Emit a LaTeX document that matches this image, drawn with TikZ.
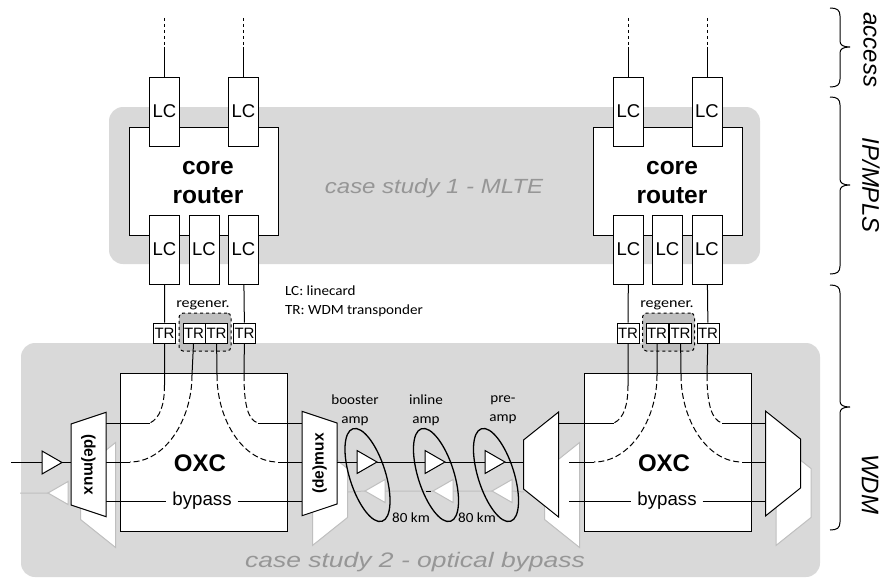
\documentclass[tikz,border=0pt]{standalone}
\usepackage{fontspec}
\setmainfont{Liberation Sans}
\newfontfamily\calfont[FakeStretch=1.08]{Carlito}
\newfontfamily\regfont[FakeStretch=1.15]{Carlito}
\usetikzlibrary{shapes.geometric}
\newcommand{\fsz}[1]{\fontsize{#1}{#1}\selectfont}
\newcommand{\blank}{\phantom{x}}
\definecolor{panelgray}{HTML}{D9D9D9}
\definecolor{regengray}{HTML}{BFBFBF}
\definecolor{backgray}{HTML}{BFBFBF}
\definecolor{casegray}{HTML}{969696}
\tikzset{
  panelbox/.style={fill=panelgray,rounded corners=14pt,minimum width=#1},
  routerbox/.style={draw,fill=white,minimum width=149pt,minimum height=108pt},
  oxcbox/.style={draw,fill=white,minimum width=167pt,minimum height=158pt},
  lcbox/.style={draw,fill=white,minimum width=30pt,minimum height=69pt,inner sep=0pt,font=\fsz{18.5}},
  trbox/.style={draw,fill=white,minimum width=22pt,minimum height=20pt,inner sep=0pt,font=\fsz{15}},
  regenbox/.style={draw,dashed,fill=regengray,rounded corners=4pt,minimum width=52pt,minimum height=38pt},
  muxbox/.style={draw,fill=white,trapezium,trapezium stretches=true,shape border rotate=180,
    trapezium left angle=59,trapezium right angle=59,minimum width=105pt,minimum height=35pt,
    inner sep=0pt,font=\bfseries\fsz{15.5}},
  graymux/.style={muxbox,draw=backgray,rotate=#1},
  ampbox/.style={draw,fill=white,isosceles triangle,isosceles triangle stretches=true,
    minimum width=23pt,minimum height=20pt,inner sep=0pt,anchor=apex},
  grayamp/.style={ampbox,draw=backgray,shape border rotate=180},
  ringbox/.style={draw,line width=1.3pt,ellipse,rotate=17.5,minimum width=36pt,minimum height=97pt,inner sep=0pt},
  smalltxt/.style={font=\calfont\fsz{14},inner sep=0pt},
  regentxt/.style={font=\regfont\fsz{14},inner sep=0pt},
  sidetxt/.style={font=\itshape\fsz{24},rotate=-90,inner sep=0pt},
  casetxt/.style={font=\itshape,text=casegray,inner sep=0pt},
  curvedash/.style={dash pattern=on 6pt off 3pt},
  every node/.append style={outer sep=0pt}
}
\begin{document}
\begin{tikzpicture}[x=1pt,y=-1pt,line width=1pt]
  \useasboundingbox (0,0) rectangle (882,578);
  % shaded areas
  \node[panelbox=651pt,minimum height=157pt] (panel1) at (434.5,185.5) {};
  \node[panelbox=799pt,minimum height=234pt] (panel2) at (420.5,460) {};
  \node[casetxt,font=\itshape\fsz{20.5}\addfontfeatures{FakeStretch=1.17}] (case1) at (434,188) {case study 1 - MLTE};
  \node[casetxt,font=\itshape\fsz{21}\addfontfeatures{FakeStretch=1.26}] (case2) at (415,562) {case study 2 - optical bypass};

  % routers
  \node[routerbox] (router1) at (203.5,181) {};
  \node[routerbox] (router2) at (667.5,181) {};
  \node[font=\bfseries\fsz{24.5},align=center,inner sep=0pt] (core1) at (208,182.5) {core\\[4pt]router};
  \node[font=\bfseries\fsz{24.5},align=center,inner sep=0pt] (core2) at (672,182.5) {core\\[4pt]router};
  \begin{scope}[every node/.style={lcbox}]
    \node (lc1) at (164.5,111.5) {LC};
    \node (lc2) at (243.5,111.5) {LC};
    \node (lc3) at (164.5,249.5) {LC};
    \node (lc4) at (204,249.5) {LC};
    \node (lc5) at (243.5,249.5) {LC};
    \node (lc6) at (628.5,111.5) {LC};
    \node (lc7) at (707,111.5) {LC};
    \node (lc8) at (628.5,249.5) {LC};
    \node (lc9) at (667.5,249.5) {LC};
    \node (lc10) at (707,249.5) {LC};
  \end{scope}
  \coordinate (acc1) at (164.5,18);
  \coordinate (acc2) at (243.5,18);
  \coordinate (acc3) at (628.5,18);
  \coordinate (acc4) at (707,18);
  \coordinate (cut1) at (164.5,47);
  \coordinate (cut2) at (243.5,47);
  \coordinate (cut3) at (628.5,47);
  \coordinate (cut4) at (707,47);
  \draw[dashed] (acc1) -- (cut1) (acc2) -- (cut2) (acc3) -- (cut3) (acc4) -- (cut4);
  \draw (cut1) -- (lc1) (cut2) -- (lc2) (cut3) -- (lc6) (cut4) -- (lc7);

  % back direction, grey
  \node[graymux=-90] (back1) at (98,495) {\blank};
  \node[graymux=90] (back2) at (330,493) {\blank};
  \node[graymux=-90] (back3) at (562,495) {\blank};
  \node[graymux=90] (back4) at (793.5,493) {\blank};
  \node[grayamp] (gamp1) at (48,493) {\blank};
  \node[grayamp] (gamp2) at (365,491) {\blank};
  \node[grayamp] (gamp3) at (433,491) {\blank};
  \node[grayamp] (gamp4) at (492,491) {\blank};
  \coordinate (gin) at (20,493);
  \coordinate (gmid1) at (348,492);
  \coordinate (gmid2) at (524,492);
  \draw[backgray] (gin) -- (gamp1.apex) (gmid1) -- (gamp2.apex) (gamp2.east) -- (gamp3.apex) (gamp3.east) -- (gamp4.apex) (gamp4.east) -- (gmid2);
  \coordinate (tick1) at (426,491.5);
  \coordinate (tick2) at (431,491.5);
  \draw (tick1) -- (tick2);

  % OXCs and regenerators
  \node[oxcbox] (oxc1) at (203.5,452) {};
  \node[oxcbox] (oxc2) at (667.5,452) {};
  \node[regenbox] (regen1) at (205,332) {};
  \node[regenbox] (regen2) at (668.5,332) {};
  \node[regentxt] (regtxt1) at (203,305) {regener.};
  \node[regentxt] (regtxt2) at (667,305) {regener.};
  \begin{scope}[every node/.style={trbox}]
    \node (tr1) at (164.5,333) {TR};
    \node (tr2) at (194,333) {TR};
    \node (tr3) at (216.5,333) {TR};
    \node (tr4) at (244.5,333) {TR};
    \node (tr5) at (628,333) {TR};
    \node (tr6) at (657,333) {TR};
    \node (tr7) at (680.5,333) {TR};
    \node (tr8) at (708,333) {TR};
  \end{scope}
  \node[font=\bfseries\fsz{24},inner sep=0pt] (oxctxt1) at (200,463) {OXC};
  \node[font=\bfseries\fsz{24},inner sep=0pt] (oxctxt2) at (664,463) {OXC};
  \node[font=\fsz{18.7},inner sep=6pt] (byp1) at (202,501) {bypass};
  \node[font=\fsz{18.7},inner sep=6pt] (byp2) at (667,501) {bypass};

  % fibres into the OXCs
  \coordinate (a1) at (164.5,385);
  \coordinate (a2) at (150,423);
  \coordinate (b1) at (192,375);
  \coordinate (b2) at (130,462);
  \coordinate (c1) at (217,375);
  \coordinate (c2) at (278,462);
  \coordinate (d1) at (244,375);
  \coordinate (d2) at (258,423);
  \coordinate (e1) at (628,385);
  \coordinate (e2) at (614,423);
  \coordinate (f1) at (657,375);
  \coordinate (f2) at (594,462);
  \coordinate (g1) at (681,375);
  \coordinate (g2) at (742,462);
  \coordinate (h1) at (707,375);
  \coordinate (h2) at (722,423);
  \draw (lc3) -- (tr1) -- (a1) (lc5) -- (tr4) -- (d1) (lc8) -- (tr5) -- (e1) (lc10) -- (tr8) -- (h1);
  \draw (tr2) -- (b1) (tr3) -- (c1) (tr6) -- (f1) (tr7) -- (g1);
  \draw[curvedash] (a1) .. controls (164.5,405) and (160,418) .. (a2);
  \draw[curvedash] (b1) .. controls (192,420) and (165,462) .. (b2);
  \draw[curvedash] (c1) .. controls (217,420) and (243,462) .. (c2);
  \draw[curvedash] (d1) .. controls (244,405) and (248,420) .. (d2);
  \draw[curvedash] (e1) .. controls (628,405) and (624,418) .. (e2);
  \draw[curvedash] (f1) .. controls (657,420) and (630,462) .. (f2);
  \draw[curvedash] (g1) .. controls (681,420) and (707,462) .. (g2);
  \draw[curvedash] (h1) .. controls (707,405) and (712,420) .. (h2);
  \coordinate (m1a) at (106,423);
  \coordinate (m1b) at (106,462);
  \coordinate (m1c) at (106,501);
  \coordinate (m2a) at (302,423);
  \coordinate (m2b) at (302,462);
  \coordinate (m2c) at (302,501);
  \coordinate (m3a) at (558,423);
  \coordinate (m3b) at (569,462);
  \coordinate (m3c) at (569,501);
  \coordinate (m4a) at (766,423);
  \coordinate (m4b) at (766,462);
  \coordinate (m4c) at (766,501);
  \draw (m1a) -- (a2) (m1b) -- (b2) (m1c) -- (byp1) -- (m2c) (m2a) -- (d2) (m2b) -- (c2);
  \draw (m3a) -- (e2) (m3b) -- (f2) (m3c) -- (byp2) -- (m4c) (m4a) -- (h2) (m4b) -- (g2);

  % muxes and amplifiers
  \node[muxbox,rotate=-90] (mux1) at (88.5,464.5) {(de)mux};
  \node[muxbox,rotate=90] (mux2) at (319.5,463.5) {(de)mux};
  \node[muxbox,rotate=-90] (mux3) at (541,464.5) {\blank};
  \node[muxbox,rotate=90] (mux4) at (783,463.5) {\blank};
  \node[ampbox] (amp1) at (62,462.5) {\blank};
  \node[ampbox] (amp2) at (377,462) {\blank};
  \node[ampbox] (amp3) at (445,462) {\blank};
  \node[ampbox] (amp4) at (505,462) {\blank};
  \coordinate (in1) at (11,462.5);
  \coordinate (fib1) at (337,462);
  \coordinate (fib2) at (524,462);
  \coordinate (fib0) at (71,462.5);
  \draw (in1) -- (amp1.west) (amp1.apex) -- (fib0);
  \draw (fib1) -- (amp2.west) (amp2.apex) -- (amp3.west) (amp3.apex) -- (amp4.west) (amp4.apex) -- (fib2);
  \node[ringbox] (ring1) at (367.5,475) {};
  \node[ringbox] (ring2) at (436,475) {};
  \node[ringbox] (ring3) at (496,475) {};

  % labels
  \node[smalltxt,align=center] (ampname1) at (355,410) {booster\\[5pt]amp};
  \node[smalltxt,align=center] (ampname2) at (426,410) {inline\\[5pt]amp};
  \node[smalltxt,align=center] (ampname3) at (503,410) {pre-\\[5pt]amp};
  \node[smalltxt] (span1) at (411,518) {80 km};
  \node[smalltxt] (span2) at (477,518) {80 km};
  \node[smalltxt,anchor=west] (key1) at (285,291) {LC: linecard};
  \node[smalltxt,anchor=west] (key2) at (285,311) {TR: WDM transponder};

  % layers
  \coordinate (br1) at (830,8);
  \coordinate (br2) at (830,87);
  \coordinate (br3) at (830,97);
  \coordinate (br4) at (830,274);
  \coordinate (br5) at (830,285);
  \coordinate (br6) at (830,530);
  \coordinate (tip1) at (850,47);
  \coordinate (tip2) at (850,185);
  \coordinate (tip3) at (850,407);
  \draw (br1) .. controls (837,8) and (840,10) .. (840,16) -- (840,41) .. controls (840,45) and (843,47) .. (tip1)
    .. controls (843,47) and (840,49) .. (840,53) -- (840,79) .. controls (840,85) and (837,87) .. (br2);
  \draw (br3) .. controls (837,97) and (840,99) .. (840,105) -- (840,179) .. controls (840,183) and (843,185) .. (tip2)
    .. controls (843,185) and (840,187) .. (840,191) -- (840,266) .. controls (840,272) and (837,274) .. (br4);
  \draw (br5) .. controls (837,285) and (840,287) .. (840,293) -- (840,401) .. controls (840,405) and (843,407) .. (tip3)
    .. controls (843,407) and (840,409) .. (840,413) -- (840,522) .. controls (840,528) and (837,530) .. (br6);
  \node[sidetxt] (layer1) at (870,50) {access};
  \node[sidetxt] (layer2) at (871,185) {IP/MPLS};
  \node[sidetxt] (layer3) at (870,484) {WDM};
\end{tikzpicture}
\end{document}
